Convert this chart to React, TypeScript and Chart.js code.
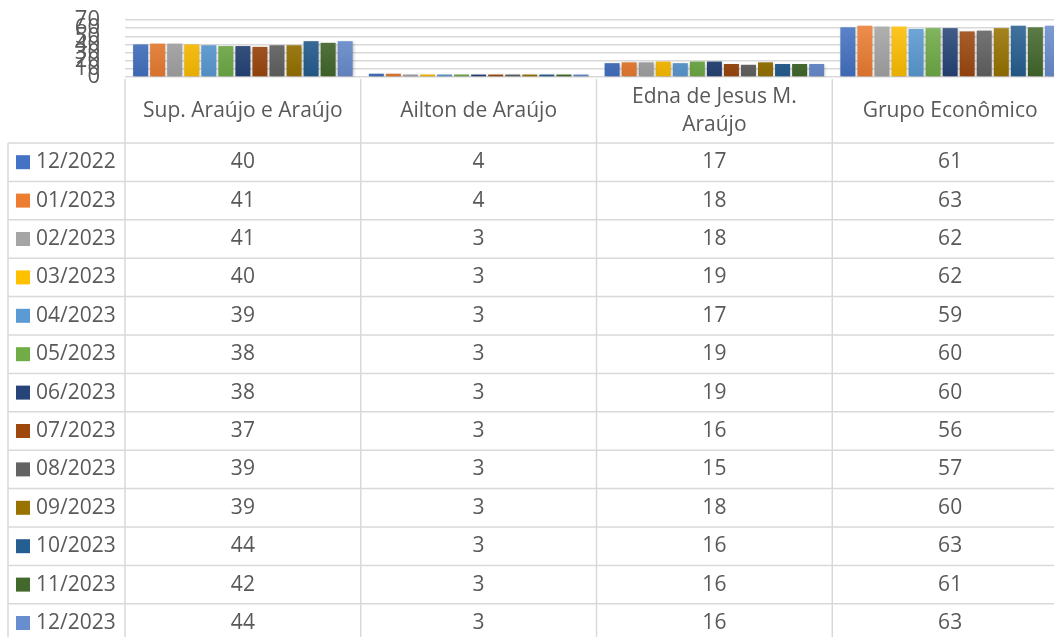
import React, { useEffect, useRef } from "react";
import { Chart, registerables } from "chart.js";

Chart.register(...registerables);

const categories = ["Sup. Araújo e Araújo", "Ailton de Araújo", "Edna de Jesus M. Araújo", "Grupo Econômico"];
const months = ["12/2022", "01/2023", "02/2023", "03/2023", "04/2023", "05/2023", "06/2023", "07/2023", "08/2023", "09/2023", "10/2023", "11/2023", "12/2023"];
const supValues = [40, 41, 41, 40, 39, 38, 38, 37, 39, 39, 44, 42, 44];
const ailtonValues = [4, 4, 3, 3, 3, 3, 3, 3, 3, 3, 3, 3, 3];
const ednaValues = [17, 18, 18, 19, 17, 19, 19, 16, 15, 18, 16, 16, 16];
const grupoValues = [61, 63, 62, 62, 59, 60, 60, 56, 57, 60, 63, 61, 63];
const seriesColors = ["#4472C4", "#ED7D31", "#A5A5A5", "#FFC000", "#5B9BD5", "#70AD47", "#264478", "#9E480E", "#636363", "#997300", "#255E91", "#43682B", "#698ED0"];
const yMin = 0;
const yMax = 70;
const yStep = 10;

const W = 1068;
const H = 645;
const FONT = '"Open Sans", "Noto Sans", sans-serif';
const TEXT = "#595959";
const LINE = "#d9d9d9";

function shade(hex: string, amt: number) {
  const n = parseInt(hex.slice(1), 16);
  let r = (n >> 16) & 255, g = (n >> 8) & 255, b = n & 255;
  const f = (c: number) => {
    const v = amt >= 0 ? c + (255 - c) * amt : c * (1 + amt);
    return Math.max(0, Math.min(255, Math.round(v)));
  };
  return `rgb(${f(r)},${f(g)},${f(b)})`;
}

function gradFor(color: string) {
  return (c: any) => {
    const chart = c.chart;
    const a = chart.chartArea;
    if (!a) return color;
    const g = chart.ctx.createLinearGradient(0, a.top, 0, a.bottom);
    g.addColorStop(0, shade(color, 0.15));
    g.addColorStop(1, shade(color, -0.1));
    return g;
  };
}

const shadowPlugin = {
  id: "barShadow",
  beforeDatasetsDraw(chart: any) {
    const ctx = chart.ctx;
    ctx.save();
    ctx.shadowColor = "rgba(0,0,0,0.28)";
    ctx.shadowBlur = 3;
    ctx.shadowOffsetX = 1;
    ctx.shadowOffsetY = 1;
  },
  afterDatasetsDraw(chart: any) {
    chart.ctx.restore();
  },
};

function wrap(ctx: CanvasRenderingContext2D, text: string, maxW: number) {
  const words = text.split(" ");
  const lines: string[] = [];
  let cur = "";
  for (const w of words) {
    const t = cur ? cur + " " + w : w;
    if (ctx.measureText(t).width > maxW && cur) {
      lines.push(cur);
      cur = w;
    } else cur = t;
  }
  if (cur) lines.push(cur);
  return lines;
}

const tablePlugin = {
  id: "dataTable",
  afterDraw(chart: any) {
    const ctx = chart.ctx as CanvasRenderingContext2D;
    const x = chart.scales.x;
    const area = chart.chartArea;
    const n = categories.length;
    const colW = (area.right - area.left) / n;
    const headerTop = area.bottom + 2;
    const headerBottom = 143;
    const rowH = 38.4;
    const legendLeft = 8;
    const tableBottom = headerBottom + rowH * months.length;

    ctx.save();
    ctx.strokeStyle = LINE;
    ctx.lineWidth = 1.5;
    ctx.beginPath();
    for (let j = 0; j <= n; j++) {
      const px = x.getPixelForValue(0) - colW / 2 + j * colW;
      ctx.moveTo(px, headerTop);
      ctx.lineTo(px, tableBottom);
    }
    ctx.moveTo(legendLeft, headerBottom);
    ctx.lineTo(legendLeft, tableBottom);
    for (let r = 0; r <= months.length; r++) {
      const py = headerBottom + r * rowH;
      ctx.moveTo(legendLeft, py);
      ctx.lineTo(area.right, py);
    }
    ctx.stroke();

    ctx.fillStyle = TEXT;
    ctx.font = `21px ${FONT}`;
    ctx.textAlign = "center";
    ctx.textBaseline = "middle";
    const hc = (headerTop + headerBottom) / 2;
    categories.forEach((cat, i) => {
      const cx = x.getPixelForValue(i);
      const lines = wrap(ctx, cat, colW - 24);
      const lh = 28;
      lines.forEach((ln, k) => {
        ctx.fillText(ln, cx, hc + (k - (lines.length - 1) / 2) * lh);
      });
    });

    const cols = [supValues, ailtonValues, ednaValues, grupoValues];
    months.forEach((m, r) => {
      const cy = headerBottom + rowH * (r + 0.5);
      ctx.fillStyle = seriesColors[r];
      ctx.fillRect(16, cy - 7, 14, 14);
      ctx.fillStyle = TEXT;
      ctx.textAlign = "left";
      ctx.fillText(m, 36, cy);
      ctx.textAlign = "center";
      cols.forEach((vals, i) => {
        ctx.fillText(String(vals[r]), x.getPixelForValue(i), cy);
      });
    });
    ctx.restore();
  },
};

export default function App() {
  const ref = useRef<HTMLCanvasElement | null>(null);
  useEffect(() => {
    if (!ref.current) return;
    const datasets = months.map((m, i) => ({
      label: m,
      data: [supValues[i], ailtonValues[i], ednaValues[i], grupoValues[i]],
      backgroundColor: gradFor(seriesColors[i]),
      borderWidth: 0,
      categoryPercentage: 0.94,
      barPercentage: 0.88,
    }));
    const chart = new Chart(ref.current, {
      type: "bar",
      data: { labels: categories, datasets },
      options: {
        responsive: false,
        animation: false,
        devicePixelRatio: 1,
        layout: { padding: { top: 20, bottom: H - 77, left: 0, right: 0 } },
        plugins: { legend: { display: false }, tooltip: { enabled: false } },
        scales: {
          x: { display: false },
          y: {
            min: yMin,
            max: yMax,
            afterFit: (s: any) => {
              s.width = 125;
            },
            ticks: {
              stepSize: yStep,
              autoSkip: false,
              padding: 0,
              color: TEXT,
              font: { family: FONT, size: 22 },
            },
            grid: { color: LINE, lineWidth: 1.5, drawTicks: true, tickLength: 25, tickColor: "rgba(0,0,0,0)" },
            border: { display: false },
          },
        },
      },
      plugins: [shadowPlugin, tablePlugin],
    });
    return () => chart.destroy();
  }, []);
  return (
    <div style={{ position: "fixed", left: 0, top: 0, width: 1054, height: 637, overflow: "hidden", background: "#fff" }}>
      <canvas ref={ref} width={W} height={H} style={{ width: W, height: H, display: "block" }} />
    </div>
  );
}
